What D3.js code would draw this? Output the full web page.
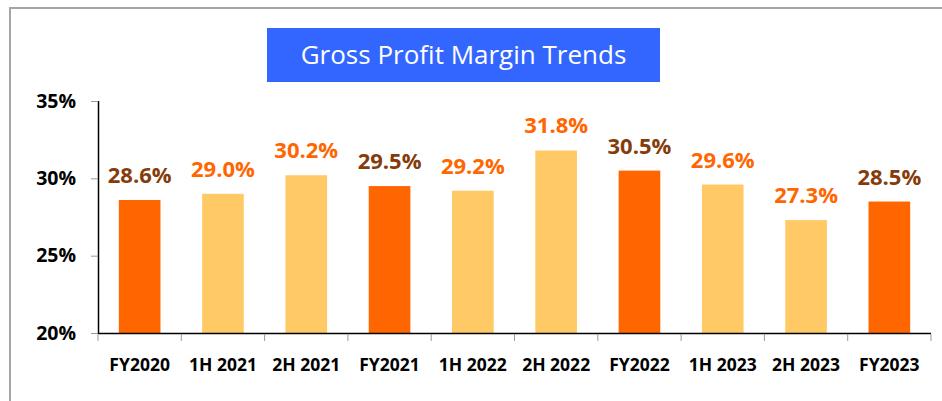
<!DOCTYPE html>
<html><head><meta charset="utf-8">
<script src="https://cdn.jsdelivr.net/npm/d3@7"></script>
<style>html,body{margin:0;padding:0;background:#fff;}svg{display:block;}</style>
</head><body>
<svg id="chart" width="942" height="401"></svg>
<script>
const categories = ["FY2020","1H 2021","2H 2021","FY2021","1H 2022","2H 2022","FY2022","1H 2023","2H 2023","FY2023"];
const values = [28.6, 29.0, 30.2, 29.5, 29.2, 31.8, 30.5, 29.6, 27.3, 28.5];
const isFullYear = [true,false,false,true,false,false,true,false,false,true];
const yTicks = [20, 25, 30, 35];
const title = "Gross Profit Margin Trends";

const svg = d3.select("#chart");
const W = 942, H = 401;
const m = {left: 98, right: 11, top: 101, bottom: 68};
const font = "'Open Sans', 'Noto Sans', sans-serif";

// outer frame
svg.append("path").attr("d", `M10,${H} L10,8 L${W},8`).attr("fill","none")
  .attr("stroke","#a6a6a6").attr("stroke-width",2);

// title box
svg.append("rect").attr("x",267).attr("y",28).attr("width",393).attr("height",54).attr("fill","#3366ff");
svg.append("text").attr("x",463.5).attr("y",64).attr("text-anchor","middle")
  .attr("font-family",font).attr("font-size",26).attr("fill","#fff").text(title);

const x = d3.scaleBand().domain(categories).range([m.left, W - m.right]).paddingInner(0.5).paddingOuter(0.25);
const y = d3.scaleLinear().domain([20,35]).range([H - m.bottom, m.top]);

// bars
svg.selectAll("rect.bar").data(categories).join("rect").attr("class","bar")
  .attr("x", d => x(d)).attr("width", x.bandwidth())
  .attr("y", (d,i) => y(values[i])).attr("height", (d,i) => y(20) - y(values[i]))
  .attr("fill", (d,i) => isFullYear[i] ? "#ff6600" : "#ffca66");

// value labels
svg.selectAll("text.val").data(categories).join("text").attr("class","val")
  .attr("x", d => x(d) + x.bandwidth()/2).attr("y", (d,i) => y(values[i]) - 17)
  .attr("text-anchor","middle").attr("font-family",font).attr("font-weight","bold").attr("font-size",22)
  .attr("fill", (d,i) => isFullYear[i] ? "#843c0c" : "#ff6600")
  .text((d,i) => values[i].toFixed(1) + "%");

// y axis
const yAxis = svg.append("g").attr("transform",`translate(${m.left},0)`)
  .call(d3.axisLeft(y).tickValues(yTicks).tickSize(7).tickPadding(15).tickFormat(d => d + "%"));
yAxis.select(".domain").attr("stroke","#000").attr("stroke-width",1.5).attr("d", `M0.5,${y(35)}V${y(20)}`);
yAxis.selectAll(".tick line").attr("stroke","#999");
yAxis.selectAll(".tick text").attr("font-family",font).attr("font-weight","bold").attr("font-size",19.5).attr("fill","#000");

// x axis
const xAxis = svg.append("g").attr("transform",`translate(0,${y(20)})`)
  .call(d3.axisBottom(x).tickSize(0).tickPadding(26));
xAxis.select(".domain").attr("stroke","#000").attr("stroke-width",1.5).attr("d", `M${m.left},0.5H${W - m.right}`);
xAxis.selectAll(".tick text").attr("font-family",font).attr("font-weight","bold").attr("font-size",17.5).attr("fill","#000");
// boundary ticks between categories
const step = x.step();
const bounds = d3.range(categories.length + 1).map(i => m.left + i * step);
xAxis.selectAll("line.bnd").data(bounds).join("line").attr("class","bnd")
  .attr("x1", d => d).attr("x2", d => d).attr("y1", 1).attr("y2", 8)
  .attr("stroke","#999");
</script>
</body></html>
